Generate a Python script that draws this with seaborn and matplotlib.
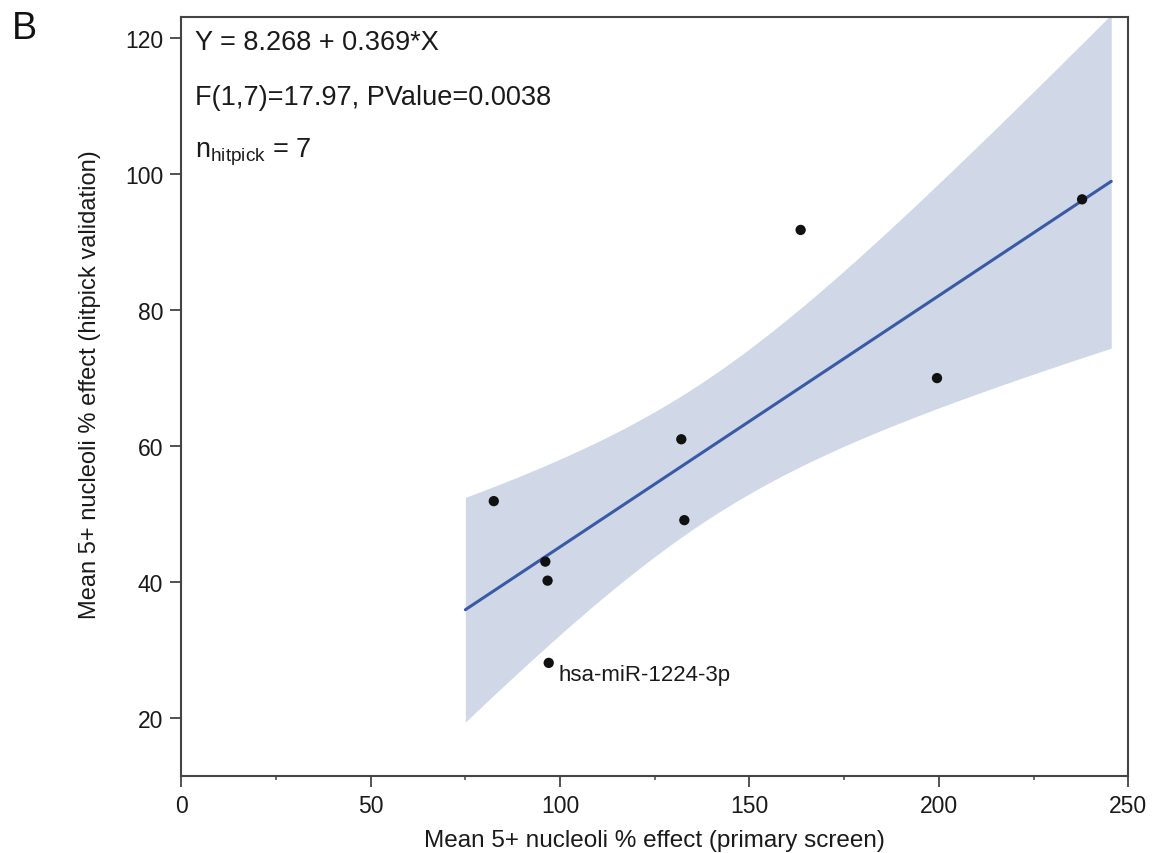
import numpy as np
import pandas as pd
import matplotlib
matplotlib.use("Agg")
import matplotlib.pyplot as plt
import seaborn as sns
from matplotlib.ticker import MultipleLocator

# -----------------------------
# data
# -----------------------------
primary = [82.5, 96.1, 96.7, 97.0, 132.0, 132.8, 163.5, 199.5, 237.8]
hitpick = [51.9, 43.0, 40.2, 28.1, 61.0, 49.1, 91.8, 70.0, 96.3]
mirna = ["", "", "", "hsa-miR-1224-3p", "", "", "", "", ""]

eq_text = "Y = 8.268 + 0.369*X"
stat_text = "F(1,7)=17.97, PValue=0.0038"
n_text = r"n$_{\mathrm{hitpick}}$ = 7"

fit_from, fit_to = 75, 245.5
t_crit = 2.365  # t(0.975, df=7)

df = pd.DataFrame({"primary": primary, "hitpick": hitpick, "label": mirna})

# -----------------------------
# linear fit + 95% CI of the mean
# -----------------------------
x = df["primary"].values
y = df["hitpick"].values
n = len(x)
slope, intercept = np.polyfit(x, y, 1)
resid = y - (intercept + slope * x)
s = np.sqrt(np.sum(resid ** 2) / (n - 2))
sxx = np.sum((x - x.mean()) ** 2)

grid = np.linspace(fit_from, fit_to, 200)
fit = intercept + slope * grid
half = t_crit * s * np.sqrt(1 / n + (grid - x.mean()) ** 2 / sxx)
fit_df = pd.DataFrame({"primary": grid, "hitpick": fit})

# -----------------------------
# plot
# -----------------------------
sns.set_theme(style="ticks")
plt.rcParams["font.family"] = ["Liberation Sans", "DejaVu Sans"]
plt.rcParams["mathtext.fontset"] = "custom"
plt.rcParams["mathtext.rm"] = "Liberation Sans"
plt.rcParams["mathtext.it"] = "Liberation Sans:italic"

fig = plt.figure(figsize=(11.62, 8.54), dpi=100)
ax = fig.add_axes([0.156, 0.0905, 0.815, 0.889])

ax.fill_between(grid, fit - half, fit + half, color="#d0d8e8", lw=0, zorder=1)
sns.lineplot(data=fit_df, x="primary", y="hitpick", color="#3b5aa6", lw=2.2, ax=ax, zorder=2)
sns.scatterplot(data=df, x="primary", y="hitpick", color="#111111", s=55,
                edgecolor="none", ax=ax, zorder=3)

for _, r in df[df["label"] != ""].iterrows():
    ax.annotate(r["label"], (r["primary"], r["hitpick"]), xytext=(10, -12),
                textcoords="offset pixels", ha="left", va="center", fontsize=16,
                color="#1a1a1a")

ax.set_xlim(0, 250)
ax.set_ylim(11.5, 123.2)
ax.xaxis.set_major_locator(MultipleLocator(50))
ax.xaxis.set_minor_locator(MultipleLocator(25))
ax.yaxis.set_major_locator(MultipleLocator(20))

for sp in ax.spines.values():
    sp.set_color("#444444")
    sp.set_linewidth(1.5)
ax.tick_params(axis="both", which="major", length=8, width=1.3, color="#444444",
               labelsize=16.5, labelcolor="#1a1a1a", pad=5)
ax.tick_params(axis="x", which="minor", length=3, width=1.1, color="#444444")

ax.set_xlabel("Mean 5+ nucleoli % effect (primary screen)", fontsize=17.5,
              color="#1a1a1a", labelpad=9)
ax.set_ylabel("Mean 5+ nucleoli % effect (hitpick validation)", fontsize=17,
              color="#1a1a1a")
ax.yaxis.set_label_coords(-0.085, 0.516)

ax.text(0.014, 0.966, eq_text, transform=ax.transAxes, fontsize=19.5, va="center", color="#1a1a1a")
ax.text(0.014, 0.894, stat_text, transform=ax.transAxes, fontsize=19.5, va="center", color="#1a1a1a")
ax.text(0.014, 0.822, n_text, transform=ax.transAxes, fontsize=19.5, va="center", color="#1a1a1a")

fig.text(0.01, 0.966, "B", fontsize=27, va="center", color="#111111")

fig.savefig("out.png", dpi=100)
